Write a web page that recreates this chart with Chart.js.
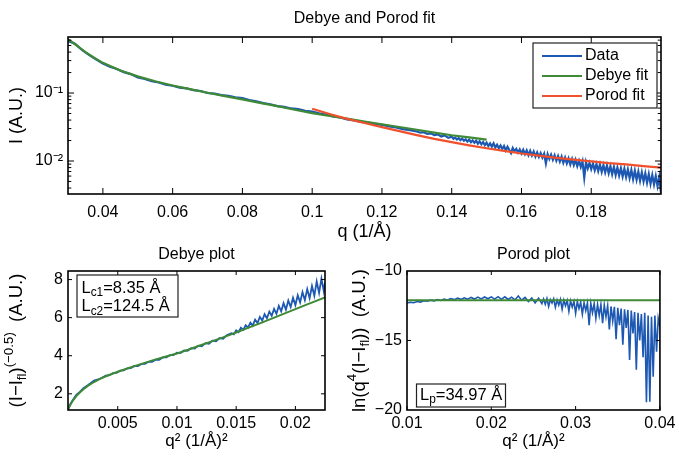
<!DOCTYPE html>
<html>
<head>
<meta charset="utf-8">
<script src="https://cdn.jsdelivr.net/npm/chart.js"></script>
<style>
  html, body { margin: 0; padding: 0; background: #fff; }
  body { width: 679px; height: 457px; position: relative; overflow: hidden; }
  .box { position: absolute; }
  #topBox { left: 0; top: 0; width: 679px; height: 250px; }
  #debBox { left: 0; top: 245px; width: 340px; height: 212px; }
  #porBox { left: 340px; top: 245px; width: 339px; height: 212px; }
</style>
</head>
<body>
<div class="box" id="topBox"><canvas id="topChart"></canvas></div>
<div class="box" id="debBox"><canvas id="debChart"></canvas></div>
<div class="box" id="porBox"><canvas id="porChart"></canvas></div>
<script>
// ---- top panel: I(q), log scale ----
const qTop = [
  0.030, 0.032, 0.034, 0.036, 0.038, 0.040, 0.042, 0.044, 0.046, 0.048,
  0.050, 0.052, 0.054, 0.056, 0.058, 0.060, 0.062, 0.064, 0.066, 0.068,
  0.070, 0.072, 0.074, 0.076, 0.078, 0.080, 0.082, 0.084, 0.086, 0.088,
  0.090, 0.092, 0.094, 0.096, 0.098, 0.100, 0.102, 0.104, 0.106, 0.108,
  0.110, 0.112, 0.114, 0.116, 0.118, 0.120, 0.122, 0.124, 0.126, 0.128,
  0.130, 0.131, 0.132, 0.133, 0.134, 0.135, 0.136, 0.137, 0.138, 0.139,
  0.1400, 0.1405, 0.1410, 0.1415, 0.1420, 0.1425, 0.1430, 0.1435, 0.1440, 0.1445,
  0.1450, 0.1455, 0.1460, 0.1465, 0.1470, 0.1475, 0.1480, 0.1485, 0.1490, 0.1495,
  0.1500, 0.1505, 0.1510, 0.1515, 0.1520, 0.1525, 0.1530, 0.1535, 0.1540, 0.1545,
  0.1550, 0.1555, 0.1560, 0.1565, 0.1570, 0.1575, 0.1580, 0.1585, 0.1590, 0.1595,
  0.1600, 0.1605, 0.1610, 0.1615, 0.1620, 0.1625, 0.1630, 0.1635, 0.1640, 0.1645,
  0.1650, 0.1655, 0.1660, 0.1665, 0.1670, 0.1675, 0.1680, 0.1685, 0.1690, 0.1695,
  0.1700, 0.1705, 0.1710, 0.1715, 0.1720, 0.1725, 0.1730, 0.1735, 0.1740, 0.1745,
  0.1750, 0.1755, 0.1760, 0.1765, 0.1770, 0.1775, 0.1780, 0.1785, 0.1790, 0.1795,
  0.1800, 0.1805, 0.1810, 0.1815, 0.1820, 0.1825, 0.1830, 0.1835, 0.1840, 0.1845,
  0.1850, 0.1855, 0.1860, 0.1865, 0.1870, 0.1875, 0.1880, 0.1885, 0.1890, 0.1895,
  0.1900, 0.1905, 0.1910, 0.1915, 0.1920, 0.1925, 0.1930, 0.1935, 0.1940, 0.1945,
  0.1950, 0.1955, 0.1960, 0.1965, 0.1970, 0.1975, 0.1980, 0.1985, 0.1990, 0.1995,
  0.2000
];
const iData = [
  0.58, 0.53, 0.43, 0.365, 0.312, 0.272, 0.243, 0.226, 0.203, 0.190,
  0.169, 0.161, 0.149, 0.143, 0.133, 0.128, 0.120, 0.117, 0.110, 0.107,
  0.100, 0.0980, 0.0930, 0.0908, 0.0862, 0.0840, 0.0790, 0.0758, 0.0712, 0.0684,
  0.0642, 0.0625, 0.0593, 0.0578, 0.0549, 0.0534, 0.0502, 0.0483, 0.0453, 0.0436,
  0.0409, 0.0396, 0.0377, 0.0367, 0.0350, 0.0341, 0.0322, 0.0312, 0.0294, 0.0284,
  0.0272, 0.0261, 0.0265, 0.0250, 0.0255, 0.0240, 0.0246, 0.0229, 0.0238, 0.0219,
  0.0228, 0.0212, 0.0221, 0.0207, 0.0218, 0.0203, 0.0214, 0.0199, 0.0208, 0.0193,
  0.0207, 0.0189, 0.0201, 0.0186, 0.0199, 0.0180, 0.0195, 0.0176, 0.0190, 0.0171,
  0.0186, 0.0166, 0.0182, 0.0163, 0.0182, 0.0158, 0.0174, 0.0155, 0.0169, 0.0150,
  0.0166, 0.0143, 0.0162, 0.0145, 0.0131, 0.0155, 0.0139, 0.0151, 0.0133, 0.0148,
  0.0129, 0.0146, 0.0126, 0.0143, 0.0122, 0.0141, 0.0120, 0.0138, 0.0116, 0.0134,
  0.0115, 0.0131, 0.0112, 0.0128, 0.0092, 0.0126, 0.0107, 0.0124, 0.0104, 0.0121,
  0.0101, 0.0118, 0.0098, 0.0116, 0.0094, 0.0112, 0.0092, 0.0109, 0.0089, 0.0107,
  0.0087, 0.0104, 0.0084, 0.0101, 0.0082, 0.0099, 0.0057, 0.0096, 0.0078, 0.0094,
  0.0076, 0.0092, 0.0073, 0.0090, 0.0071, 0.0089, 0.0069, 0.0087, 0.0068, 0.0086,
  0.0066, 0.0084, 0.0064, 0.0082, 0.0062, 0.0080, 0.0061, 0.0078, 0.0059, 0.0077,
  0.0058, 0.0075, 0.0056, 0.0074, 0.0054, 0.0072, 0.0053, 0.0070, 0.0051, 0.0068,
  0.0050, 0.0066, 0.0048, 0.0064, 0.0046, 0.0062, 0.0045, 0.0060, 0.0043, 0.0058,
  0.0034
];
const qDebyeFit = [0.030, 0.0325, 0.035, 0.0375, 0.040, 0.045, 0.050, 0.055, 0.060, 0.065,
  0.070, 0.075, 0.080, 0.085, 0.090, 0.095, 0.100, 0.105, 0.110, 0.115,
  0.120, 0.125, 0.130, 0.135, 0.140, 0.145, 0.150];
const iDebyeFit = [0.62, 0.50, 0.40, 0.33, 0.278, 0.215, 0.176, 0.149, 0.129, 0.114,
  0.101, 0.090, 0.0805, 0.0715, 0.0640, 0.0568, 0.0505, 0.0459, 0.0419, 0.0381,
  0.0347, 0.0316, 0.0288, 0.0262, 0.0239, 0.0222, 0.0206];
const qPorodFit = [0.100, 0.105, 0.110, 0.115, 0.120, 0.125, 0.130, 0.135, 0.140, 0.145,
  0.150, 0.155, 0.160, 0.165, 0.170, 0.175, 0.180, 0.185, 0.190, 0.195, 0.200];
const iPorodFit = [0.0587, 0.0491, 0.0416, 0.0362, 0.0315, 0.0275, 0.0240, 0.0212, 0.0190, 0.0170,
  0.0154, 0.0141, 0.0129, 0.0120, 0.0111, 0.0105, 0.0099, 0.0093, 0.0089, 0.0084, 0.0080];
const topXTicks = [0.04, 0.06, 0.08, 0.1, 0.12, 0.14, 0.16, 0.18];
const topYTicks = [0.01, 0.1];
const topYLabels = ['10⁻²', '10⁻¹'];

// ---- Debye plot: (I-Ifl)^-0.5 vs q^2 ----
const q2Debye = [
  0.0008, 0.0010, 0.0012, 0.0015, 0.0018, 0.0021, 0.0025, 0.0030, 0.0035,
  0.0040, 0.0043, 0.0046, 0.0049, 0.0052, 0.0055, 0.0058, 0.0061, 0.0064, 0.0067,
  0.0070, 0.0073, 0.0076, 0.0079, 0.0082, 0.0085, 0.0088, 0.0091, 0.0094, 0.0097,
  0.0100, 0.0103, 0.0106, 0.0109, 0.0112, 0.0115, 0.0118, 0.0121, 0.0124, 0.0127,
  0.0130, 0.0133, 0.0136, 0.0139, 0.0142,
  0.0146, 0.0148, 0.0150, 0.0152, 0.0154, 0.0156, 0.0158, 0.0160, 0.0162, 0.0164,
  0.0166, 0.0168, 0.0170, 0.0172, 0.0174, 0.0176, 0.0178, 0.0180, 0.0182, 0.0184,
  0.0186, 0.0188, 0.0190, 0.0192, 0.0194, 0.0196, 0.0198, 0.0200, 0.0202, 0.0204,
  0.0206, 0.0208, 0.0210, 0.0212, 0.0214, 0.0216, 0.0218, 0.0220, 0.0222, 0.0224,
  0.0225
];
const yDebye = [
  1.17, 1.47, 1.66, 1.94, 2.10, 2.29, 2.46, 2.69, 2.79,
  2.96, 2.98, 3.09, 3.10, 3.22, 3.23, 3.34, 3.35, 3.46, 3.45,
  3.57, 3.57, 3.68, 3.68, 3.79, 3.79, 3.91, 3.91, 4.03, 4.03,
  4.16, 4.14, 4.28, 4.26, 4.40, 4.38, 4.53, 4.50, 4.66, 4.63,
  4.79, 4.76, 4.93, 4.89, 5.07,
  5.18, 5.12, 5.33, 5.24, 5.47, 5.36, 5.60, 5.47, 5.74, 5.58,
  5.90, 5.72, 6.04, 5.85, 6.18, 5.96, 6.32, 6.10, 6.46, 6.20,
  6.62, 6.33, 6.76, 6.42, 6.90, 6.56, 7.05, 6.66, 7.18, 6.80,
  7.34, 6.92, 7.50, 7.02, 7.66, 7.15, 7.90, 7.30, 8.05, 7.38,
  7.85
];
const q2DebyeFit = [0.0008, 0.0010, 0.0012, 0.0015, 0.0018, 0.0021, 0.0025, 0.0030, 0.0035, 0.0040,
  0.0050, 0.0060, 0.0070, 0.0080, 0.0090, 0.0100, 0.0110, 0.0120, 0.0130, 0.0140,
  0.0150, 0.0160, 0.0170, 0.0180, 0.0190, 0.0200, 0.0210, 0.0225];
const yDebyeFit = [1.17, 1.42, 1.63, 1.88, 2.07, 2.24, 2.43, 2.62, 2.78, 2.92,
  3.16, 3.37, 3.57, 3.77, 3.95, 4.12, 4.33, 4.55, 4.77, 4.99,
  5.22, 5.46, 5.70, 5.95, 6.20, 6.45, 6.70, 7.06];
const debXTicks = [0.005, 0.01, 0.015, 0.02];
const debYTicks = [2, 4, 6, 8];

// ---- Porod plot: ln(q^4 (I-Ifl)) vs q^2 ----
const q2Porod = [
  0.0100, 0.0104, 0.0108, 0.0112, 0.0116, 0.0120, 0.0124, 0.0128, 0.0132, 0.0136,
  0.0140, 0.0144, 0.0148, 0.0152, 0.0156, 0.0160, 0.0164, 0.0168, 0.0172, 0.0176,
  0.0180, 0.0184, 0.0188, 0.0192, 0.0196, 0.0200, 0.0204, 0.0208, 0.0212, 0.0216,
  0.0220, 0.0224, 0.0228, 0.0232, 0.0236, 0.0240, 0.0244, 0.0248, 0.0252, 0.0256,
  0.0260, 0.0262, 0.0264, 0.0266, 0.0268, 0.0270, 0.0272, 0.0274, 0.0276, 0.0278,
  0.0280, 0.0282, 0.0284, 0.0286, 0.0288, 0.0290, 0.0292, 0.0294, 0.0296, 0.0298,
  0.0300, 0.0302, 0.0304, 0.0306, 0.0308, 0.0310, 0.0312, 0.0314, 0.0316, 0.0318,
  0.0320, 0.0322, 0.0324, 0.0326, 0.0328, 0.0330, 0.0332, 0.0334, 0.0336, 0.0338,
  0.0340, 0.0342, 0.0344, 0.0346, 0.0348, 0.0350, 0.0352, 0.0354, 0.0356, 0.0358,
  0.0360, 0.0362, 0.0364, 0.0366, 0.0368, 0.0370, 0.0372, 0.0374, 0.0376, 0.0378,
  0.0380, 0.0382, 0.0384, 0.0386, 0.0388, 0.0390, 0.0392, 0.0394, 0.0396, 0.0398,
  0.0400
];
const yPorod = [
  -12.30, -12.25, -12.28, -12.20, -12.24, -12.14, -12.18, -12.10, -12.15, -12.06,
  -12.12, -12.02, -12.09, -11.98, -12.06, -11.95, -12.04, -11.93, -12.03, -11.90,
  -12.02, -11.88, -12.01, -11.87, -12.00, -11.86, -12.02, -11.85, -12.04, -11.86,
  -12.05, -11.88, -12.08, -11.80, -12.10, -11.90, -12.20, -11.95, -12.30, -11.95,
  -12.35, -12.02, -12.40, -11.98, -12.55, -12.05, -12.30, -12.00, -12.60, -12.08,
  -12.45, -12.05, -12.75, -12.10, -12.50, -12.12, -12.90, -12.15, -12.60, -12.18,
  -13.05, -12.20, -12.70, -12.25, -13.10, -12.28, -12.85, -12.30, -13.90, -12.32,
  -13.00, -12.35, -13.40, -12.40, -13.20, -12.42, -13.75, -12.45, -13.30, -12.50,
  -14.20, -12.55, -13.60, -12.58, -14.90, -12.65, -13.90, -12.70, -15.30, -12.75,
  -14.10, -12.80, -16.40, -12.85, -14.50, -12.95, -17.10, -13.00, -15.00, -13.10,
  -16.20, -13.00, -19.45, -13.20, -19.40, -13.30, -17.60, -13.20, -15.80, -13.40,
  -14.00
];
const q2PorodFit = [0.01, 0.04];
const yPorodFit = [-12.1, -12.1];
const porXTicks = [0.01, 0.02, 0.03, 0.04];
const porYTicks = [-20, -15, -10];

const BLUE = '#1d58b2';
const GREEN = '#3f8a36';
const RED = '#f0502b';
const FONT = "'Liberation Sans', Arial, Helvetica, sans-serif";

Chart.defaults.font.family = FONT;
Chart.defaults.color = '#000';

const pts = (xs, ys) => xs.map((x, i) => ({ x, y: ys[i] }));
const minus = v => String(v).replace('-', '−');

// text with sub/superscripts, parts = [[text, 0 | 1 (sup) | -1 (sub)], ...]
function drawParts(ctx, parts, x, y, size, align) {
  const small = size * 0.72;
  const widths = parts.map(([t, k]) => {
    ctx.font = (k ? small : size) + 'px ' + FONT;
    return ctx.measureText(t).width;
  });
  let cx = align === 'center' ? x - widths.reduce((a, b) => a + b, 0) / 2 : x;
  ctx.textBaseline = 'middle';
  ctx.textAlign = 'left';
  parts.forEach(([t, k], i) => {
    ctx.font = (k ? small : size) + 'px ' + FONT;
    ctx.fillText(t, cx, y + (k === 1 ? -size * 0.4 : k === -1 ? size * 0.3 : 0));
    cx += widths[i];
  });
}

function yTitle(ctx, parts, x, y, size) {
  ctx.save();
  ctx.translate(x, y);
  ctx.rotate(-Math.PI / 2);
  drawParts(ctx, parts, 0, 0, size, 'center');
  ctx.restore();
}

function textBox(ctx, x, y, w, h) {
  ctx.fillStyle = '#fff';
  ctx.fillRect(x, y, w, h);
  ctx.strokeStyle = '#222';
  ctx.lineWidth = 1.2;
  ctx.strokeRect(x, y, w, h);
  ctx.fillStyle = '#000';
}

// matlab style box with inward ticks on all four sides
function matlabAxes(cfg) {
  return {
    id: 'matlabAxes',
    afterDatasetsDraw(chart) {
      const { ctx, chartArea: a, scales: { x, y } } = chart;
      ctx.save();
      ctx.strokeStyle = '#000';
      ctx.lineWidth = 1;
      ctx.beginPath();
      cfg.xTicks.forEach(v => {
        const px = x.getPixelForValue(v);
        ctx.moveTo(px, a.bottom); ctx.lineTo(px, a.bottom - cfg.tick);
        ctx.moveTo(px, a.top); ctx.lineTo(px, a.top + cfg.tick);
      });
      const yVals = cfg.logY ? y.ticks.map(t => t.value) : cfg.yTicks;
      yVals.forEach(v => {
        if (v <= y.min || v >= y.max) return;
        let len = cfg.tick;
        if (cfg.logY) {
          const m = v / Math.pow(10, Math.floor(Math.log10(v) + 1e-9));
          if (Math.abs(m - Math.round(m)) > 1e-6) return;
          if (Math.round(m) !== 1) len = cfg.tick * 0.55;
        }
        const py = y.getPixelForValue(v);
        ctx.moveTo(a.left, py); ctx.lineTo(a.left + len, py);
        ctx.moveTo(a.right, py); ctx.lineTo(a.right - len, py);
      });
      ctx.stroke();
      ctx.lineWidth = 1.6;
      ctx.strokeRect(a.left, a.top, a.right - a.left, a.bottom - a.top);
      if (cfg.after) cfg.after(chart, ctx, a);
      ctx.restore();
    }
  };
}

function baseOptions(o) {
  return {
    animation: false,
    responsive: true,
    maintainAspectRatio: false,
    layout: { padding: { right: o.right }, autoPadding: false },
    elements: { point: { radius: 0 }, line: { tension: 0 } },
    plugins: {
      legend: { display: false },
      tooltip: { enabled: false },
      title: {
        display: true, text: o.title, fullSize: false, color: '#000',
        font: { size: 16, weight: 'normal' }, padding: o.titlePad
      }
    },
    scales: {
      x: {
        type: 'linear', min: o.xMin, max: o.xMax,
        grid: { display: false, drawTicks: false }, border: { display: false },
        afterBuildTicks: s => { s.ticks = o.xTicks.map(v => ({ value: v })); },
        afterFit: s => { s.height = o.xHeight; },
        ticks: { padding: o.xPad, font: { size: 16 }, maxRotation: 0, autoSkip: false, callback: v => String(v) },
        title: { display: true, text: o.xTitle, font: { size: 17 }, padding: { top: 0, bottom: o.xTitlePad } }
      },
      y: Object.assign({
        min: o.yMin, max: o.yMax,
        grid: { display: false, drawTicks: false }, border: { display: false },
        afterFit: s => { s.width = o.yWidth; },
        ticks: { padding: 5, font: { size: 16 }, autoSkip: false, callback: v => minus(v) }
      }, o.y || {})
    }
  };
}

// ---- top chart ----
const topOpts = baseOptions({
  title: 'Debye and Porod fit', titlePad: { top: 8.5, bottom: 9.3 }, right: 18,
  xMin: 0.03, xMax: 0.2, xTicks: topXTicks, xHeight: 56, xPad: 9,
  xTitle: 'q (1/Å)', xTitlePad: 7, yWidth: 68, yMin: 0.00327, yMax: 0.667
});
topOpts.scales.x.title.font.size = 18;
topOpts.scales.y.type = 'logarithmic';
topOpts.scales.y.ticks.callback = v => {
  const i = topYTicks.findIndex(t => Math.abs(t - v) < t * 1e-6);
  return i < 0 ? '' : topYLabels[i];
};
topOpts.scales.y.title = { display: true, text: 'I (A.U.)', font: { size: 18 }, padding: { top: 6, bottom: 0 } };

new Chart(document.getElementById('topChart'), {
  type: 'line',
  data: {
    datasets: [
      { label: 'Data', data: pts(qTop, iData), borderColor: BLUE, borderWidth: 2.2, order: 3 },
      { label: 'Debye fit', data: pts(qDebyeFit, iDebyeFit), borderColor: GREEN, borderWidth: 2.2, order: 2 },
      { label: 'Porod fit', data: pts(qPorodFit, iPorodFit), borderColor: RED, borderWidth: 2.2, order: 1 }
    ]
  },
  options: topOpts,
  plugins: [matlabAxes({
    xTicks: topXTicks, logY: true, tick: 6,
    after: (chart, ctx, a) => {
      const lx = a.right - 128, ly = a.top + 6;
      textBox(ctx, lx, ly, 124, 65);
      chart.data.datasets.forEach((ds, i) => {
        const cy = ly + 13 + i * 20;
        ctx.strokeStyle = ds.borderColor;
        ctx.lineWidth = 2;
        ctx.beginPath();
        ctx.moveTo(lx + 9, cy); ctx.lineTo(lx + 49, cy);
        ctx.stroke();
        ctx.fillStyle = '#000';
        ctx.font = '16px ' + FONT;
        ctx.textBaseline = 'middle';
        ctx.textAlign = 'left';
        ctx.fillText(ds.label, lx + 52, cy);
      });
    }
  })]
});

// ---- Debye plot ----
new Chart(document.getElementById('debChart'), {
  type: 'line',
  data: {
    datasets: [
      { label: 'Data', data: pts(q2Debye, yDebye), borderColor: BLUE, borderWidth: 1.8, order: 2 },
      { label: 'Debye fit', data: pts(q2DebyeFit, yDebyeFit), borderColor: GREEN, borderWidth: 2, order: 1 }
    ]
  },
  options: baseOptions({
    title: 'Debye plot', titlePad: { top: 0, bottom: 6.8 }, right: 15,
    xMin: 0.0008, xMax: 0.0225, xTicks: debXTicks, xHeight: 47, xPad: 3.5,
    xTitle: 'q² (1/Å)²', xTitlePad: 5, yWidth: 68, yMin: 1.15, yMax: 8.45,
    y: { afterBuildTicks: s => { s.ticks = debYTicks.map(v => ({ value: v })); } }
  }),
  plugins: [matlabAxes({
    xTicks: debXTicks, yTicks: debYTicks, tick: 4,
    after: (chart, ctx, a) => {
      yTitle(ctx, [['(I−I', 0], ['fl', -1], [')', 0], ['(−0.5)', 1], ['  (A.U.)', 0]], 17, (a.top + a.bottom) / 2, 18.5);
      textBox(ctx, a.left + 9, a.top + 4, 101, 42);
      drawParts(ctx, [['L', 0], ['c1', -1], ['=8.35 Å', 0]], a.left + 13.5, a.top + 17, 16.5);
      drawParts(ctx, [['L', 0], ['c2', -1], ['=124.5 Å', 0]], a.left + 13.5, a.top + 35.5, 16.5);
    }
  })]
});

// ---- Porod plot ----
new Chart(document.getElementById('porChart'), {
  type: 'line',
  data: {
    datasets: [
      { label: 'Data', data: pts(q2Porod, yPorod), borderColor: BLUE, borderWidth: 1.6, order: 2 },
      { label: 'Porod fit', data: pts(q2PorodFit, yPorodFit), borderColor: GREEN, borderWidth: 2, order: 1 }
    ]
  },
  options: baseOptions({
    title: 'Porod plot', titlePad: { top: 0, bottom: 6.8 }, right: 16,
    xMin: 0.01, xMax: 0.04, xTicks: porXTicks, xHeight: 47, xPad: 3.5,
    xTitle: 'q² (1/Å)²', xTitlePad: 5, yWidth: 67, yMin: -20, yMax: -10,
    y: { afterBuildTicks: s => { s.ticks = porYTicks.map(v => ({ value: v })); } }
  }),
  plugins: [matlabAxes({
    xTicks: porXTicks, yTicks: porYTicks, tick: 4,
    after: (chart, ctx, a) => {
      yTitle(ctx, [['ln(q', 0], ['4', 1], ['(I−I', 0], ['fl', -1], ['))', 0], ['  (A.U.)', 0]], 20, (a.top + a.bottom) / 2, 18.5);
      textBox(ctx, a.left + 9.5, a.bottom - 26, 89, 23);
      drawParts(ctx, [['L', 0], ['p', -1], ['=34.97 Å', 0]], a.left + 13, a.bottom - 15, 16.5);
    }
  })]
});
</script>
</body>
</html>
